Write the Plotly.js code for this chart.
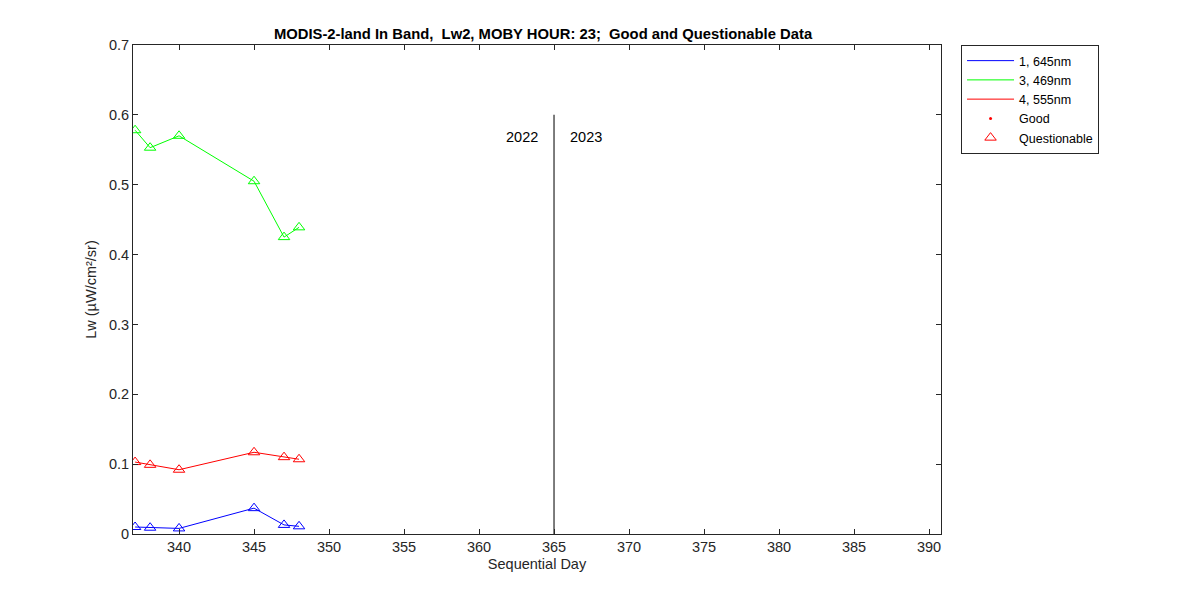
<!DOCTYPE html>
<html><head><meta charset="utf-8">
<script src="https://cdn.plot.ly/plotly-3.0.1.min.js"></script>
<style>body{margin:0;background:#fff}#c{width:1200px;height:600px}</style>
</head><body><div id="c"></div>
<script>
const days = [337.07, 338.07, 340.0, 345.0, 347.0, 348.0];
const band1_645 = [0.010, 0.009, 0.008, 0.037, 0.013, 0.011];
const band3_469 = [0.578, 0.553, 0.570, 0.505, 0.425, 0.439];
const band4_555 = [0.103, 0.099, 0.092, 0.117, 0.110, 0.107];
const yearBoundary = 365;
const yearLabels = ['2022', '2023'];
const legendNames = ['1, 645nm', '3, 469nm', '4, 555nm', 'Good', 'Questionable'];

const fnt = {family: 'Liberation Sans, Arial, sans-serif', size: 14.5, color: '#262626'};
function dataTrace(y, color) {
  return {x: days, y: y, mode: 'lines+markers', showlegend: false,
    line: {color: color, width: 1},
    marker: {symbol: 'triangle-up-open', size: 10, color: color, line: {width: 1, color: color}}};
}
const traces = [
  dataTrace(band1_645, '#0000ff'),
  dataTrace(band3_469, '#00ff00'),
  dataTrace(band4_555, '#ff0000'),
  {x: [yearBoundary, yearBoundary], y: [0, 0.6], mode: 'lines', showlegend: false, line: {color: '#262626', width: 1.2}},
  {x: [null], y: [null], mode: 'lines', name: legendNames[0], line: {color: '#0000ff', width: 1}},
  {x: [null], y: [null], mode: 'lines', name: legendNames[1], line: {color: '#00ff00', width: 1}},
  {x: [null], y: [null], mode: 'lines', name: legendNames[2], line: {color: '#ff0000', width: 1}},
  {x: [null], y: [null], mode: 'markers', name: legendNames[3], marker: {symbol: 'circle', size: 3, color: '#ff0000'}},
  {x: [null], y: [null], mode: 'markers', name: legendNames[4], marker: {symbol: 'triangle-up-open', size: 10, color: '#ff0000', line: {width: 1, color: '#ff0000'}}}
];
const axisCommon = {showgrid: false, zeroline: false, showline: true, mirror: 'ticks', linecolor: '#262626', linewidth: 1,
  ticks: 'inside', ticklen: 5, tickcolor: '#262626', tickfont: fnt};
const layout = {
  width: 1200, height: 600,
  paper_bgcolor: '#fff', plot_bgcolor: '#fff',
  margin: {l: 133, r: 259, t: 45, b: 66},
  title: {text: '<b>MODIS-2-land In Band,  Lw2, MOBY HOUR: 23;  Good and Questionable Data</b>', font: {family: fnt.family, size: 14.8, color: '#000'}, x: 0.4525, xanchor: 'center', y: 0.943, yanchor: 'middle'},
  xaxis: Object.assign({}, axisCommon, {range: [336.93, 390.8], tickvals: [340,345,350,355,360,365,370,375,380,385,390],
    title: {text: 'Sequential Day', font: fnt, standoff: 4}}),
  yaxis: Object.assign({}, axisCommon, {range: [0, 0.7], tickvals: [0,0.1,0.2,0.3,0.4,0.5,0.6,0.7], ticktext: ['0','0.1','0.2','0.3','0.4','0.5','0.6','0.7'],
    title: {text: 'Lw (µW/cm²/sr)', font: fnt, standoff: 8}}),
  legend: {x: 1.0248, y: 1, xanchor: 'left', yanchor: 'top', bgcolor: '#fff', bordercolor: '#262626', borderwidth: 1,
    font: {family: fnt.family, size: 12.5, color: '#000'}, tracegroupgap: 0, itemwidth: 47},
  annotations: [
    {x: yearBoundary, y: 0.568, xref: 'x', yref: 'y', text: yearLabels[0], showarrow: false, xanchor: 'right', xshift: -14, font: {family: fnt.family, size: 14.5, color: '#000'}},
    {x: yearBoundary, y: 0.568, xref: 'x', yref: 'y', text: yearLabels[1], showarrow: false, xanchor: 'left', xshift: 14, font: {family: fnt.family, size: 14.5, color: '#000'}}
  ]
};
Plotly.newPlot('c', traces, layout, {displayModeBar: false});
</script></body></html>
